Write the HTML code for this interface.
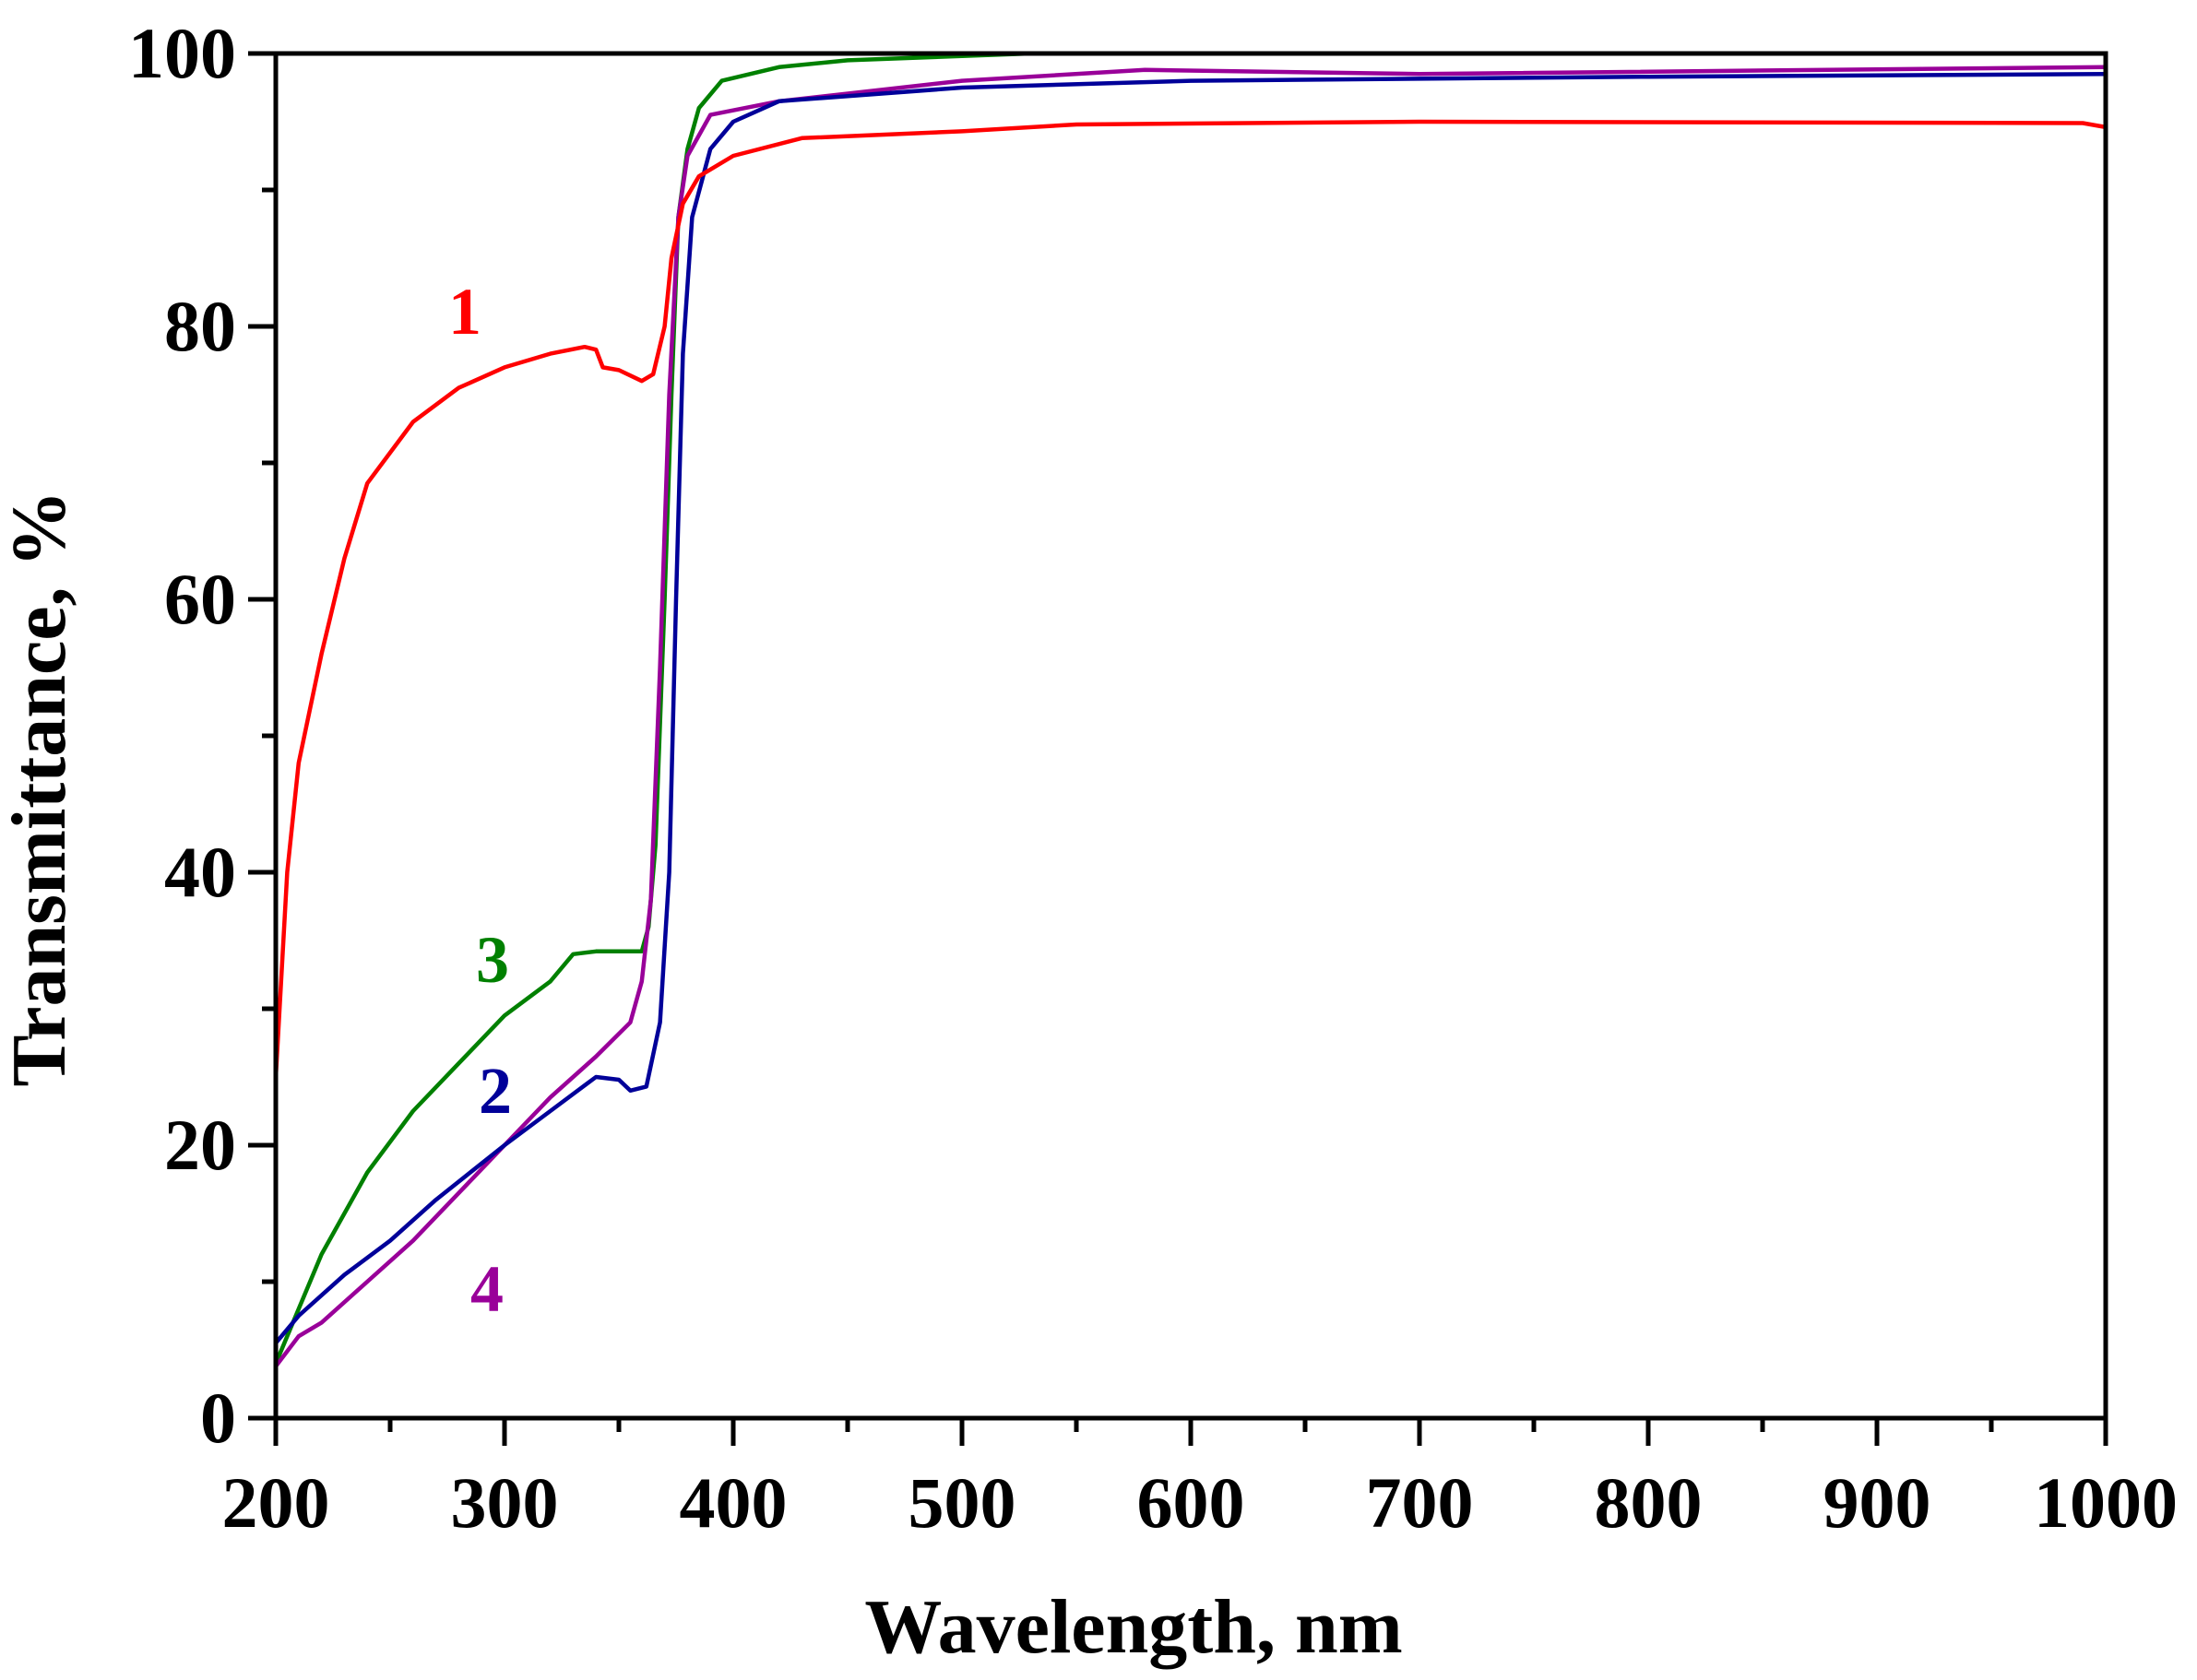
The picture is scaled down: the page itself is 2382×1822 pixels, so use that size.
<!DOCTYPE html>
<html><head><meta charset="utf-8"><style>
html,body{margin:0;padding:0;background:#fff;}
svg{display:block;}
text{font-family:"Liberation Serif",serif;font-weight:bold;}
</style></head><body>
<svg id="s" width="2382" height="1822" viewBox="0 0 2382 1822" xmlns="http://www.w3.org/2000/svg">
<rect width="2382" height="1822" fill="#fff"/>
<g id="curves" fill="none" stroke-width="4.5" stroke-linejoin="round"></g>
<rect x="299" y="58" width="1984" height="1480" fill="none" stroke="#000" stroke-width="5"/>
<g id="ticks" stroke="#000" stroke-width="5"></g>
<g id="labels" font-size="78" fill="#000"></g>
<text x="1229" y="1792" font-size="84" text-anchor="middle">Wavelength, nm</text>
<text transform="translate(70,855) rotate(-90)" font-size="84" text-anchor="middle">Transmittance, %</text>
<text x="504" y="362" font-size="72" fill="#ff0000" text-anchor="middle">1</text>
<text x="537" y="1207" font-size="72" fill="#000099" text-anchor="middle">2</text>
<text x="534" y="1065" font-size="72" fill="#008000" text-anchor="middle">3</text>
<text x="528" y="1422" font-size="72" fill="#990099" text-anchor="middle">4</text>
</svg>
<script>
var X=function(w){return 299+(w-200)*1984/800;},Y=function(t){return 1538-t*14.8;};
var ns="http://www.w3.org/2000/svg";
var data=[
["#008000",[[200,4],[220,12],[240,18],[260,22.5],[280,26],[300,29.5],[320,32],[330,34],[340,34.2],[360,34.2],[363,36],[366,42],[370,60],[373,75],[376,88],[380,93],[385,96],[395,98],[420,99],[450,99.5],[530,100],[1000,100]]],
["#990099",[[200,3.8],[210,6],[220,7],[240,10],[260,13],[280,16.5],[300,20],[320,23.5],[340,26.5],[355,29],[360,32],[364,38],[368,55],[372,75],[376,88],[380,92.5],[390,95.5],[420,96.5],[500,98],[580,98.8],[700,98.5],[1000,99]]],
["#000099",[[200,5.5],[210,7.5],[230,10.5],[250,13],[270,16],[300,20],[320,22.5],[340,25],[350,24.8],[355,24],[362,24.3],[368,29],[372,40],[375,60],[378,78],[382,88],[390,93],[400,95],[420,96.5],[500,97.5],[600,98],[800,98.3],[1000,98.5]]],
["#ff0000",[[200,25],[205,40],[210,48],[220,56],[230,63],[240,68.5],[260,73],[280,75.5],[300,77],[320,78],[335,78.5],[340,78.3],[343,77],[350,76.8],[360,76],[365,76.5],[370,80],[373,85],[378,89],[385,91],[400,92.5],[430,93.8],[500,94.3],[550,94.8],[700,95],[990,94.9],[1000,94.6]]]
];
var g=document.getElementById("curves");
data.forEach(function(d){var p=document.createElementNS(ns,"polyline");
p.setAttribute("points",d[1].map(function(q){return X(q[0]).toFixed(1)+","+Y(q[1]).toFixed(1);}).join(" "));
p.setAttribute("stroke",d[0]);g.appendChild(p);});
var t=document.getElementById("ticks"),l=document.getElementById("labels");
function line(a,b,c,d){var e=document.createElementNS(ns,"line");e.setAttribute("x1",a);e.setAttribute("y1",b);e.setAttribute("x2",c);e.setAttribute("y2",d);t.appendChild(e);}
function txt(x,y,s,anc){var e=document.createElementNS(ns,"text");e.setAttribute("x",x);e.setAttribute("y",y);e.setAttribute("text-anchor",anc);e.textContent=s;l.appendChild(e);}
for(var v=0;v<=100;v+=10){var y=Y(v);line(299,y,v%20==0?269:284,y);if(v%20==0)txt(256,y+26,String(v),"end");}
for(var w=200;w<=1000;w+=50){var x=X(w);line(x,1538,x,w%100==0?1568:1553);if(w%100==0)txt(x,1656,String(w),"middle");}
</script>
</body></html>
